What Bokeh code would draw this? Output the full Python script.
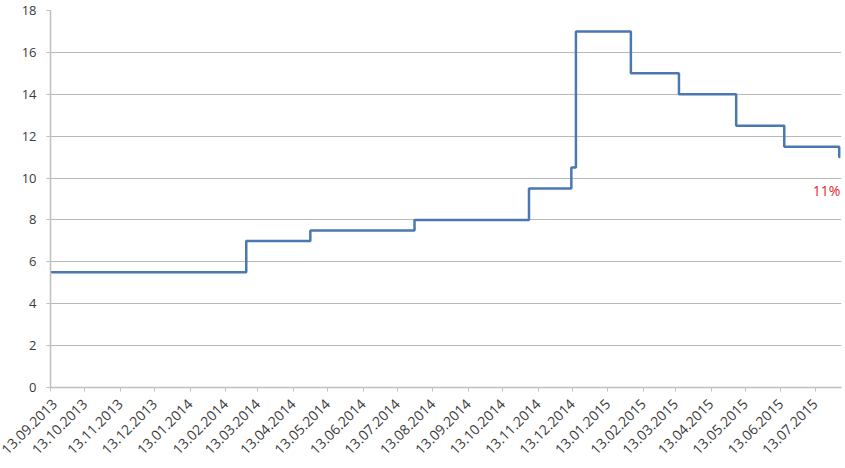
from datetime import datetime
from bokeh.plotting import figure
from bokeh.models import FixedTicker, DatetimeTickFormatter, Range1d, Label
from bokeh.embed import file_html
from bokeh.resources import INLINE
import math

# Step changes of the rate (date of change, new value)
change_dates = ["2013-09-13", "2014-03-03", "2014-04-28", "2014-07-28", "2014-11-05",
                "2014-12-12", "2014-12-16", "2015-02-02", "2015-03-16", "2015-05-05",
                "2015-06-16", "2015-08-03", "2015-08-04"]
rates = [5.5, 7.0, 7.5, 8.0, 9.5, 10.5, 17.0, 15.0, 14.0, 12.5, 11.5, 11.0, 11.0]

tick_labels = ["13.09.2013", "13.10.2013", "13.11.2013", "13.12.2013", "13.01.2014",
               "13.02.2014", "13.03.2014", "13.04.2014", "13.05.2014", "13.06.2014",
               "13.07.2014", "13.08.2014", "13.09.2014", "13.10.2014", "13.11.2014",
               "13.12.2014", "13.01.2015", "13.02.2015", "13.03.2015", "13.04.2015",
               "13.05.2015", "13.06.2015", "13.07.2015"]
y_ticks = [0, 2, 4, 6, 8, 10, 12, 14, 16, 18]
x_start, x_end = "2013-09-13", "2015-08-05"
end_label = "11%"

dates = [datetime.strptime(d, "%Y-%m-%d") for d in change_dates]
tick_dates = [datetime.strptime(t, "%d.%m.%Y") for t in tick_labels]
epoch = datetime(1970, 1, 1)
tick_ms = [(d - epoch).total_seconds() * 1000 for d in tick_dates]

p = figure(width=845, height=468, x_axis_type="datetime", output_backend="svg",
           toolbar_location=None,
           x_range=Range1d(datetime.strptime(x_start, "%Y-%m-%d"), datetime.strptime(x_end, "%Y-%m-%d")),
           y_range=Range1d(0, 18),
           min_border_left=50, min_border_right=4, min_border_top=10, min_border_bottom=81)
p.outline_line_color = None
p.background_fill_color = "white"

p.step(dates, rates, mode="after", line_color="#4a78b0", line_width=2.5)

p.xaxis.ticker = FixedTicker(ticks=tick_ms)
fmt = "%d.%m.%Y"
p.xaxis.formatter = DatetimeTickFormatter(days=fmt, months=fmt, years=fmt, hours=fmt,
                                          minutes=fmt, seconds=fmt, milliseconds=fmt,
                                          minsec=fmt, hourmin=fmt)
p.xaxis.major_label_orientation = math.pi / 4
p.yaxis.ticker = FixedTicker(ticks=y_ticks)

for ax in (p.xaxis, p.yaxis):
    ax.axis_line_color = "#bfbfbf"
    ax.axis_line_width = 1.5
    ax.major_tick_line_color = "#bfbfbf"
    ax.major_tick_in = 0
    ax.major_tick_out = 4
    ax.minor_tick_line_color = None
    ax.major_label_text_font = "Open Sans"
    ax.major_label_text_color = "#3a3a3a"
p.xaxis.major_label_text_font_size = "14px"
p.yaxis.major_label_text_font_size = "13px"
p.xaxis.major_label_standoff = 10
p.yaxis.major_label_standoff = 10

p.xgrid.grid_line_color = None
p.ygrid.grid_line_color = "#b8b8b8"
p.ygrid.grid_line_width = 1

p.add_layout(Label(x=dates[-1], y=rates[-1], text=end_label, text_align="right",
                   text_baseline="middle", x_offset=0, y_offset=-33,
                   text_color="#e8242a", text_font="Open Sans", text_font_size="14px"))

open("out.html", "w").write(file_html(p, INLINE))
